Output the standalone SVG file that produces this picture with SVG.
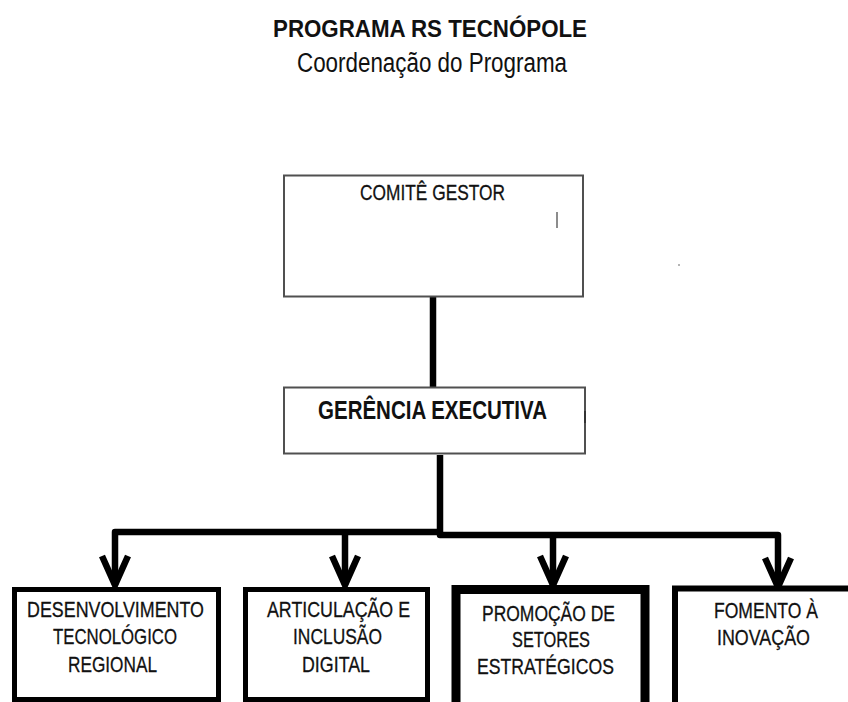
<svg xmlns="http://www.w3.org/2000/svg" xmlns:xlink="http://www.w3.org/1999/xlink" width="848" height="702" viewBox="0 0 848 702">
<style>
text{font-family:"Liberation Sans",Arial,sans-serif;fill:#111}
.b{font-weight:bold}
.thin{fill:#fff;stroke:#505050;stroke-width:2}
.thick{fill:#fff;stroke:#000}
.conn{fill:none;stroke:#000;stroke-width:6.5;stroke-linejoin:round}
.chev{fill:none;stroke:#000;stroke-width:6.5;stroke-linejoin:miter;stroke-linecap:butt}
.lbl{font-size:22.5px;stroke:#111;stroke-width:0.3}
</style>
<defs>
<path id="chev" d="M-13,-32 L0,-3 L13,-32"/>
</defs>
<rect width="848" height="702" fill="#fff"/>
<g id="title">
<text class="b" x="273" y="37" font-size="24" textLength="314" lengthAdjust="spacingAndGlyphs">PROGRAMA RS TECNÓPOLE</text>
<text x="297" y="72" font-size="27" textLength="270" lengthAdjust="spacingAndGlyphs">Coordenação do Programa</text>
</g>
<g id="connectors">
<path class="conn" d="M433,297 V387"/>
<path class="conn" d="M440,455 V532 H115 V585"/>
<path class="conn" d="M345,532 V585"/>
<path class="conn" d="M440,532 V535 H778 V585"/>
<path class="conn" d="M553,535 V585"/>
<use href="#chev" xlink:href="#chev" class="chev" transform="translate(115,588)"/>
<use href="#chev" xlink:href="#chev" class="chev" transform="translate(345,588)"/>
<use href="#chev" xlink:href="#chev" class="chev" transform="translate(553,588)"/>
<use href="#chev" xlink:href="#chev" class="chev" transform="translate(778,590)"/>
</g>
<g id="comite">
<rect class="thin" x="284" y="175.5" width="299" height="121"/>
<text x="360" y="200" font-size="22" stroke="#111" stroke-width="0.3" textLength="145" lengthAdjust="spacingAndGlyphs">COMITÊ GESTOR</text>
<line x1="557" y1="212" x2="557" y2="228" stroke="#666" stroke-width="1.5"/>
</g>
<g id="gerencia">
<rect class="thin" x="284" y="387.5" width="301" height="66"/>
<text class="b" x="318" y="419" font-size="25" textLength="229" lengthAdjust="spacingAndGlyphs">GERÊNCIA EXECUTIVA</text>
<line x1="585" y1="411" x2="585" y2="423" stroke="#333" stroke-width="2"/>
</g>
<g id="desenvolvimento">
<rect class="thick" x="14.5" y="589.5" width="204" height="110" stroke-width="5"/>
<text class="lbl" x="27" y="617" textLength="177" lengthAdjust="spacingAndGlyphs">DESENVOLVIMENTO</text>
<text class="lbl" x="53" y="644" textLength="124" lengthAdjust="spacingAndGlyphs">TECNOLÓGICO</text>
<text class="lbl" x="68" y="672" textLength="89" lengthAdjust="spacingAndGlyphs">REGIONAL</text>
</g>
<g id="articulacao">
<rect class="thick" x="245.5" y="589.5" width="182" height="110" stroke-width="5"/>
<text class="lbl" x="267" y="617" textLength="143" lengthAdjust="spacingAndGlyphs">ARTICULAÇÃO E</text>
<text class="lbl" x="293" y="644" textLength="89" lengthAdjust="spacingAndGlyphs">INCLUSÃO</text>
<text class="lbl" x="302" y="672" textLength="68" lengthAdjust="spacingAndGlyphs">DIGITAL</text>
</g>
<g id="promocao">
<rect class="thick" x="456" y="589.5" width="189" height="130" stroke-width="9"/>
<text class="lbl" x="482" y="621" textLength="133" lengthAdjust="spacingAndGlyphs">PROMOÇÃO DE</text>
<text class="lbl" x="512" y="647" textLength="78" lengthAdjust="spacingAndGlyphs">SETORES</text>
<text class="lbl" x="477" y="674" textLength="137" lengthAdjust="spacingAndGlyphs">ESTRATÉGICOS</text>
</g>
<g id="fomento">
<rect class="thick" x="675" y="588.5" width="200" height="130" stroke-width="6"/>
<text class="lbl" x="714" y="618" textLength="104" lengthAdjust="spacingAndGlyphs">FOMENTO À</text>
<text class="lbl" x="717" y="645" textLength="93" lengthAdjust="spacingAndGlyphs">INOVAÇÃO</text>
</g>
<circle cx="679" cy="265" r="0.8" fill="#555"/>
</svg>
